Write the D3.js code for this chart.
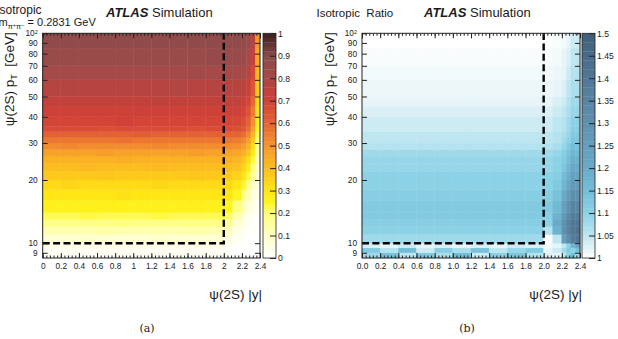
<!DOCTYPE html>
<meta charset="utf-8" />
<style>
  body { margin: 0; background: #fff; }
  text { font-family: "Liberation Sans", Arial, sans-serif; fill: #1a1a1a; }
  .cap { font-family: "DejaVu Serif", "Liberation Serif", serif; }
</style>
<body>
<div id="chart"></div>
<script src="https://d3js.org/d3.v7.min.js"></script>
<script>
// bin edges shared by both panels
var rapEdges = [0, 0.2, 0.4, 0.6, 0.8, 1.0, 1.2, 1.4, 1.6, 1.8, 2.0, 2.1, 2.2, 2.25, 2.3, 2.35, 2.4];
var ptEdges = [8.5, 9, 9.5, 10, 11, 12, 13, 14, 16, 18, 20, 22, 24, 26, 28, 30, 32, 34, 36, 40, 45, 50, 60, 70, 85, 100];

// (a) isotropic acceptance, one row per pT bin (low to high), one value per |y| bin
var accIso = [
  [.01,.01,.01,.01,.01,.01,.01,.01,.01,.01, .01,0,0,0,0,0],
  [.02,.02,.02,.02,.02,.02,.02,.02,.02,.02, .01,0,0,0,0,0],
  [.04,.04,.04,.04,.04,.04,.04,.04,.04,.04, .02,.01,0,0,0,0],
  [.08,.08,.09,.08,.08,.08,.09,.08,.08,.08, .05,.02,.01,0,0,0],
  [.13,.13,.13,.14,.13,.13,.13,.13,.14,.13, .11,.05,.02,.01,0,0],
  [.18,.18,.18,.18,.19,.18,.18,.18,.18,.18, .16,.09,.04,.02,.01,0],
  [.22,.22,.23,.22,.22,.22,.23,.22,.22,.22, .21,.13,.07,.04,.02,.01],
  [.26,.26,.26,.27,.26,.26,.26,.26,.27,.26, .25,.19,.12,.07,.04,.02],
  [.30,.30,.30,.30,.31,.30,.30,.30,.30,.30, .30,.25,.18,.12,.07,.03],
  [.33,.34,.33,.33,.33,.33,.34,.33,.33,.33, .33,.30,.24,.17,.10,.05],
  [.37,.37,.37,.38,.37,.37,.37,.37,.38,.37, .37,.35,.30,.23,.15,.07],
  [.40,.40,.41,.40,.40,.40,.41,.40,.40,.40, .40,.39,.34,.28,.19,.09],
  [.43,.43,.43,.43,.44,.43,.43,.43,.43,.43, .43,.42,.38,.32,.23,.11],
  [.47,.47,.47,.48,.47,.47,.47,.47,.48,.47, .47,.46,.43,.38,.28,.14],
  [.52,.53,.52,.52,.52,.52,.53,.52,.52,.52, .52,.51,.48,.43,.32,.16],
  [.56,.56,.56,.56,.57,.56,.56,.56,.56,.56, .56,.55,.53,.48,.37,.19],
  [.61,.61,.61,.61,.61,.62,.61,.61,.61,.61, .61,.60,.58,.53,.42,.22],
  [.67,.67,.67,.66,.67,.67,.67,.67,.66,.67, .67,.66,.63,.58,.47,.25],
  [.69,.69,.69,.69,.70,.69,.69,.69,.69,.69, .69,.68,.66,.61,.51,.28],
  [.71,.71,.71,.71,.71,.72,.71,.71,.71,.71, .71,.71,.69,.65,.55,.31],
  [.74,.74,.74,.74,.74,.74,.75,.74,.74,.74, .74,.74,.72,.69,.59,.34],
  [.77,.77,.77,.77,.77,.77,.77,.78,.77,.77, .77,.77,.76,.73,.64,.38],
  [.81,.81,.81,.81,.81,.81,.81,.81,.82,.81, .81,.81,.80,.77,.68,.42],
  [.85,.85,.85,.85,.85,.85,.85,.85,.85,.86, .85,.85,.84,.81,.73,.46],
  [.88,.88,.88,.88,.88,.88,.88,.88,.88,.88, .88,.88,.87,.84,.77,.50]
];

// (b) ratio to isotropic, same binning
var ratioIso = [
  [1.08,1.14,1.05,1.12,1.07,1.15,1.04,1.10,1.13,1.06, 1.03,1.02,1.05,1.10,1.15,1.08],
  [1.12,1.06,1.15,1.04,1.11,1.07,1.14,1.05,1.09,1.12, 1.02,1.04,1.08,1.12,1.10,1.14],
  [1.03,1.02,1.04,1.02,1.03,1.02,1.03,1.02,1.04,1.03, 1.01,1.02,1.05,1.10,1.18,1.22],
  [1.08,1.08,1.08,1.08,1.08,1.08,1.08,1.08,1.08,1.08, 1.00,1.05,1.25,1.32,1.38,1.40],
  [1.10,1.10,1.10,1.10,1.10,1.10,1.10,1.10,1.10,1.10, 1.06,1.18,1.30,1.36,1.40,1.42],
  [1.11,1.11,1.11,1.11,1.11,1.11,1.11,1.11,1.11,1.11, 1.10,1.20,1.30,1.36,1.40,1.40],
  [1.12,1.12,1.12,1.12,1.12,1.12,1.12,1.12,1.12,1.12, 1.11,1.18,1.27,1.34,1.38,1.38],
  [1.12,1.12,1.12,1.12,1.12,1.12,1.12,1.12,1.12,1.12, 1.12,1.16,1.24,1.30,1.35,1.34],
  [1.11,1.11,1.11,1.11,1.11,1.11,1.11,1.11,1.11,1.11, 1.11,1.14,1.20,1.26,1.31,1.30],
  [1.10,1.10,1.10,1.10,1.10,1.10,1.10,1.10,1.10,1.10, 1.10,1.12,1.17,1.22,1.27,1.26],
  [1.10,1.10,1.10,1.10,1.10,1.10,1.10,1.10,1.10,1.10, 1.10,1.11,1.15,1.19,1.24,1.23],
  [1.09,1.09,1.09,1.09,1.09,1.09,1.09,1.09,1.09,1.09, 1.09,1.10,1.13,1.17,1.21,1.20],
  [1.09,1.09,1.09,1.09,1.09,1.09,1.09,1.09,1.09,1.09, 1.09,1.10,1.12,1.15,1.19,1.18],
  [1.08,1.08,1.08,1.08,1.08,1.08,1.08,1.08,1.08,1.08, 1.08,1.09,1.11,1.14,1.17,1.16],
  [1.06,1.06,1.06,1.06,1.06,1.06,1.06,1.06,1.06,1.06, 1.06,1.07,1.09,1.12,1.15,1.14],
  [1.05,1.05,1.05,1.05,1.05,1.05,1.05,1.05,1.05,1.05, 1.05,1.06,1.08,1.10,1.13,1.13],
  [1.05,1.05,1.05,1.05,1.05,1.05,1.05,1.05,1.05,1.05, 1.05,1.06,1.07,1.09,1.12,1.12],
  [1.04,1.04,1.04,1.04,1.04,1.04,1.04,1.04,1.04,1.04, 1.04,1.05,1.06,1.08,1.11,1.11],
  [1.04,1.04,1.04,1.04,1.04,1.04,1.04,1.04,1.04,1.04, 1.04,1.05,1.06,1.08,1.10,1.10],
  [1.03,1.03,1.03,1.03,1.03,1.03,1.03,1.03,1.03,1.03, 1.03,1.04,1.05,1.07,1.09,1.09],
  [1.02,1.02,1.02,1.02,1.02,1.02,1.02,1.02,1.02,1.02, 1.02,1.03,1.04,1.06,1.08,1.08],
  [1.015,1.015,1.015,1.015,1.015,1.015,1.015,1.015,1.015,1.015, 1.015,1.02,1.03,1.05,1.07,1.07],
  [1.01,1.01,1.01,1.01,1.01,1.01,1.01,1.01,1.01,1.01, 1.01,1.015,1.02,1.04,1.06,1.06],
  [1.005,1.005,1.005,1.005,1.005,1.005,1.005,1.005,1.005,1.005, 1.005,1.01,1.02,1.03,1.05,1.05],
  [1.0,1.0,1.0,1.0,1.0,1.0,1.0,1.0,1.0,1.0, 1.0,1.005,1.01,1.02,1.04,1.04]
];

// tick labels
var xTicks = [0, 0.2, 0.4, 0.6, 0.8, 1, 1.2, 1.4, 1.6, 1.8, 2, 2.2, 2.4];
var yTicks = [9, 10, 20, 30, 40, 50, 60, 70, 80, 90, 100];
var zTicksA = [0, 0.1, 0.2, 0.3, 0.4, 0.5, 0.6, 0.7, 0.8, 0.9, 1];
var zTicksB = [1, 1.05, 1.1, 1.15, 1.2, 1.25, 1.3, 1.35, 1.4, 1.45, 1.5];

// colour maps
var cmapA = d3.scaleLinear()
  .domain([0, 0.1, 0.2, 0.25, 0.3, 0.4, 0.5, 0.6, 0.7, 0.75, 0.8, 0.9, 1])
  .range(["#ffffff", "#ffffc8", "#ffff78", "#fff51e", "#ffe614", "#fcbe1e", "#f5962d", "#e66432", "#d24137", "#bf413c", "#a84a48", "#8a4b4b", "#3c1e1e"])
  .clamp(true);
var cmapB = d3.scaleLinear()
  .domain([1, 1.025, 1.05, 1.1, 1.15, 1.2, 1.3, 1.4, 1.5])
  .range(["#ffffff", "#e1f2f7", "#bee6f0", "#8cd2e6", "#73bed7", "#69aac8", "#5f91af", "#507896", "#415f78"])
  .clamp(true);

var W = 618, H = 339;
var svg = d3.select("#chart").append("svg").attr("width", W).attr("height", H);

function panel(c) {
  var g = svg.append("g");
  var x = d3.scaleLinear().domain([0, 2.4]).range([c.x0, c.x1]);
  var y = d3.scaleLog().domain([8.5, 100]).range([c.y1, c.y0]);

  // cells
  c.data.forEach(function(row, i) {
    row.forEach(function(v, j) {
      var col = c.cmap(v);
      g.append("rect")
        .attr("x", x(rapEdges[j]))
        .attr("y", y(ptEdges[i + 1]))
        .attr("width", x(rapEdges[j + 1]) - x(rapEdges[j]))
        .attr("height", y(ptEdges[i]) - y(ptEdges[i + 1]))
        .attr("fill", col)
        .attr("stroke", col)
        .attr("stroke-width", 0.4);
    });
  });

  // dashed fiducial lines
  var dash = d3.line().x(function(d) { return x(d[0]); }).y(function(d) { return y(d[1]); });
  g.append("path").attr("d", dash([[0, 10], [2, 10], [2, 100]]))
    .attr("fill", "none").attr("stroke", "#000").attr("stroke-width", 2.4)
    .attr("stroke-dasharray", "7,3.4");

  // axes (ticks inward)
  var minor = d3.range(0, 2.4001, 0.04);
  function clean(a) { a.select(".domain").remove(); a.selectAll("line").attr("stroke", "#222"); }
  var ax = g.append("g").attr("transform", "translate(0," + c.y1 + ")")
    .call(d3.axisBottom(x).tickValues(xTicks).tickSize(-5).tickPadding(5).tickFormat(c.xFmt));
  clean(ax);
  ax.selectAll("text").attr("font-size", 8.3).attr("font-family", null);
  clean(g.append("g").attr("transform", "translate(0," + c.y1 + ")")
    .call(d3.axisBottom(x).tickValues(minor).tickSize(-2.5).tickFormat("")));
  clean(g.append("g").attr("transform", "translate(0," + c.y0 + ")")
    .call(d3.axisTop(x).tickValues(xTicks).tickSize(-5).tickFormat("")));
  clean(g.append("g").attr("transform", "translate(0," + c.y0 + ")")
    .call(d3.axisTop(x).tickValues(minor).tickSize(-2.5).tickFormat("")));
  var ay = g.append("g").attr("transform", "translate(" + c.x0 + ",0)")
    .call(d3.axisLeft(y).tickValues(yTicks).tickSize(-5).tickPadding(5).tickFormat(d3.format("d")));
  clean(ay);
  ay.selectAll("text").attr("font-size", 8.3).attr("font-family", null);
  ay.selectAll(".tick").filter(function(d) { return d === 100; }).select("text")
    .text("10").append("tspan").attr("dy", "-0.45em").attr("font-size", 5.5).text("2");
  clean(g.append("g").attr("transform", "translate(" + c.x1 + ",0)")
    .call(d3.axisRight(y).tickValues(yTicks).tickSize(-5).tickFormat("")));

  // frame
  g.append("rect").attr("x", c.x0).attr("y", c.y0)
    .attr("width", c.x1 - c.x0).attr("height", c.y1 - c.y0)
    .attr("fill", "none").attr("stroke", "#222").attr("stroke-width", 1);

  // colour bar
  var z = d3.scaleLinear().domain(c.zDomain).range([c.y1, c.y0]);
  var n = 50, step = (c.zDomain[1] - c.zDomain[0]) / n;
  d3.range(n).forEach(function(k) {
    var v0 = c.zDomain[0] + k * step;
    g.append("rect").attr("x", c.cb0).attr("width", c.cb1 - c.cb0)
      .attr("y", z(v0 + step)).attr("height", z(v0) - z(v0 + step) + 0.3)
      .attr("fill", c.cmap(v0 + step / 2));
  });
  g.append("rect").attr("x", c.cb0).attr("y", c.y0)
    .attr("width", c.cb1 - c.cb0).attr("height", c.y1 - c.y0)
    .attr("fill", "none").attr("stroke", "#222").attr("stroke-width", 0.8);
  var az = g.append("g").attr("transform", "translate(" + c.cb1 + ",0)")
    .call(d3.axisRight(z).tickValues(c.zTicks).tickSize(-6).tickPadding(2).tickFormat(d3.format("~g")));
  clean(az);
  az.selectAll("text").attr("font-size", 8.6).attr("font-family", null);

  // axis titles
  g.append("text").attr("x", c.x1 + 2).attr("y", 299).attr("text-anchor", "end")
    .attr("font-size", 13.5).text("\u03c8(2S) |y|");
  var yt = g.append("text").attr("transform", "translate(" + c.ytX + "," + (c.y0 - 1) + ") rotate(-90)")
    .attr("text-anchor", "end").attr("font-size", 13.5);
  yt.append("tspan").text("\u03c8(2S) p");
  yt.append("tspan").attr("font-size", 9).attr("dy", 3).text("T");
  yt.append("tspan").attr("dy", -3).text("\u00a0\u00a0[GeV]");

  // ATLAS label
  var at = g.append("text").attr("x", c.atlasX).attr("y", 17).attr("font-size", 13);
  at.append("tspan").attr("font-weight", "bold").attr("font-style", "italic").text("ATLAS");
  at.append("tspan").text(" Simulation");

  // caption
  g.append("text").attr("class", "cap").attr("x", c.capX).attr("y", 332)
    .attr("text-anchor", "middle").attr("font-size", 11).text(c.cap);
  return g;
}

var ga = panel({
  x0: 42.7, x1: 260, y0: 33.3, y1: 258, cb0: 263, cb1: 276,
  data: accIso, cmap: cmapA, zDomain: [0, 1], zTicks: zTicksA,
  xFmt: d3.format("~g"), ytX: 14, atlasX: 106, capX: 147, cap: "(a)"
});
var gb = panel({
  x0: 362, x1: 580, y0: 33.3, y1: 258, cb0: 582, cb1: 595,
  data: ratioIso, cmap: cmapB, zDomain: [1, 1.5], zTicks: zTicksB,
  xFmt: d3.format(".1f"), ytX: 334, atlasX: 424, capX: 467, cap: "(b)"
});

// top-left notes (the reference crops them at the left edge)
ga.append("text").attr("x", -3.8).attr("y", 14).attr("font-size", 12).text("Isotropic");
var m = ga.append("text").attr("x", -1.5).attr("y", 26).attr("font-size", 11);
m.append("tspan").text("m");
m.append("tspan").attr("font-size", 7.5).attr("dy", 3).text("\u03c0");
m.append("tspan").attr("font-size", 5.5).attr("dy", -2.5).text("+");
m.append("tspan").attr("font-size", 7.5).attr("dy", 2.5).text("\u03c0");
m.append("tspan").attr("font-size", 5.5).attr("dy", -2.5).text("\u2212");
m.append("tspan").attr("dy", -0.5).text(" = 0.2831 GeV");
gb.append("text").attr("x", 316.5).attr("y", 17).attr("font-size", 11.5)
  .text("Isotropic\u00a0\u00a0Ratio");
</script>
</body>
